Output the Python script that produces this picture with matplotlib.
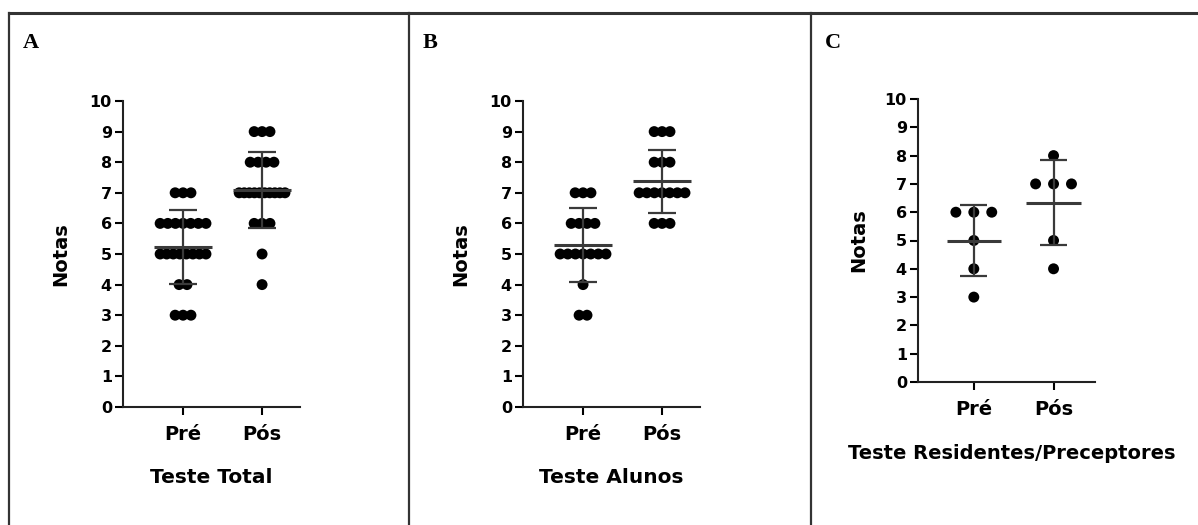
import matplotlib
matplotlib.use("Agg")
import matplotlib.pyplot as plt
from matplotlib.lines import Line2D
import numpy as np

# scores (one entry per student)
total_pre = [7, 7, 7, 6, 6, 6, 6, 6, 6, 6, 5, 5, 5, 5, 5, 5, 5, 5, 4, 4, 3, 3, 3]
total_pos = [9, 9, 9, 8, 8, 8, 8, 7, 7, 7, 7, 7, 7, 7, 7, 7, 7, 6, 6, 6, 5, 4]
alunos_pre = [7, 7, 7, 6, 6, 6, 6, 5, 5, 5, 5, 5, 5, 5, 4, 3, 3]
alunos_pos = [9, 9, 9, 8, 8, 8, 7, 7, 7, 7, 7, 7, 7, 6, 6, 6]
resid_pre = [6, 6, 6, 5, 4, 3]
resid_pos = [8, 7, 7, 7, 5, 4]

groups = ["Pré", "Pós"]
yticks = list(range(0, 11))

W, H = 1198, 525
fig = plt.figure(figsize=(W / 100, H / 100), dpi=100)
plt.rcParams['font.family'] = ['DejaVu Sans']
plt.rcParams['font.weight'] = 'bold'

LINE = '#3a3a3a'


def px_axes(left, top, right, bottom):
    return fig.add_axes([left / W, 1 - bottom / H, (right - left) / W, (bottom - top) / H])


def spread(values, step, max_w):
    # horizontal offsets so equal scores sit side by side, squeezed to column width
    values = np.asarray(values)
    offs = np.zeros(len(values))
    for v in np.unique(values):
        idx = np.where(values == v)[0]
        n = len(idx)
        st = step if n < 2 else min(step, max_w / (n - 1))
        offs[idx] = (np.arange(n) - (n - 1) / 2) * st
    return offs


def panel(ax, pre, pos, xlabel, step, max_w, mean_hw, cap_hw, xlab_x, xlab_y):
    for i, vals in enumerate([pre, pos]):
        x = i + 1
        vals = np.asarray(vals, dtype=float)
        ax.scatter(x + spread(vals, step, max_w), vals, s=62, color='black',
                   edgecolors='none', zorder=2, clip_on=False)
        m = vals.mean()
        sd = vals.std(ddof=1)
        ax.vlines(x, m - sd, m + sd, color=LINE, lw=1.6, zorder=3)
        ax.hlines(m, x - mean_hw, x + mean_hw, color=LINE, lw=2.2, zorder=3)
        ax.hlines([m - sd, m + sd], x - cap_hw, x + cap_hw, color=LINE, lw=1.6, zorder=3)

    ax.set_ylim(0, 10)
    ax.set_xlim(0.24, 2.48)
    ax.set_yticks(yticks)
    ax.set_xticks([1, 2])
    ax.set_xticklabels(groups, fontsize=14, fontweight='bold')
    ax.tick_params(axis='y', labelsize=11.5, length=6, width=1.5, pad=2)
    ax.tick_params(axis='x', length=6, width=1.5, pad=7)
    for lab in ax.get_yticklabels():
        lab.set_fontweight('bold')
    for s in ['top', 'right']:
        ax.spines[s].set_visible(False)
    for s in ['left', 'bottom']:
        ax.spines[s].set_linewidth(1.5)
        ax.spines[s].set_color('#222222')
    ax.set_ylabel("Notas", fontsize=14, fontweight='bold')
    ax.yaxis.set_label_coords(-0.30, 0.5)
    ax.set_xlabel(xlabel, fontsize=14.5, fontweight='bold')
    ax.xaxis.set_label_coords(xlab_x, xlab_y)


axA = px_axes(123, 101, 300, 407)
panel(axA, total_pre, total_pos, "Teste Total", 0.10, 0.58, 0.37, 0.18, 0.5, -0.2)

axB = px_axes(523, 101, 700, 407)
panel(axB, alunos_pre, alunos_pos, "Teste Alunos", 0.10, 0.58, 0.37, 0.18, 0.5, -0.2)

axC = px_axes(918, 99, 1095, 382)
panel(axC, resid_pre, resid_pos, "Teste Residentes/Preceptores", 0.225, 0.6, 0.34, 0.17, 0.53, -0.22)
axC.set_xlim(0.3, 2.52)
axC.yaxis.set_label_coords(-0.28, 0.5)
axC.xaxis.label.set_fontsize(14)

# panel frames
for x0 in [9, 409, 811]:
    fig.add_artist(Line2D([x0 / W, x0 / W], [0, 1 - 13 / H], color='#333333', lw=1.6))
fig.add_artist(Line2D([9 / W, 1], [1 - 13 / H, 1 - 13 / H], color='#333333', lw=2.2))

for x0, letter in [(23, 'A'), (423, 'B'), (825, 'C')]:
    fig.text(x0 / W, 1 - 43 / H, letter, fontsize=16, fontweight='bold',
             family=['Liberation Serif', 'DejaVu Serif'], va='center', ha='left')

fig.savefig("out.png", dpi=100, facecolor='white')
